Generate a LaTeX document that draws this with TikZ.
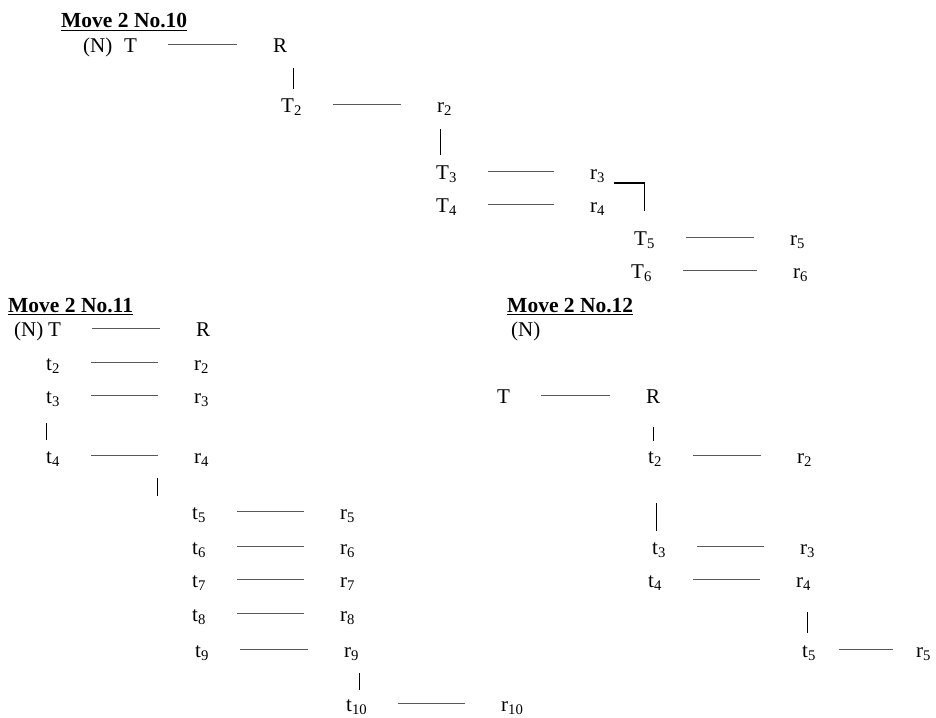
\documentclass[tikz,border=0pt]{standalone}
\usepackage{fontspec}
\setmainfont{Liberation Serif}

\begin{document}
\begin{tikzpicture}[x=1pt, y=-1pt,
    every node/.style={inner sep=0pt, anchor=west, text height=18pt, text depth=1pt,
                       font=\fontsize{21}{25}\selectfont},
    heading/.style={anchor=base west, font=\fontsize{21.5}{26}\selectfont\bfseries},
    pairline/.style={draw=black!65, line width=0.9pt, shorten <=31pt, shorten >=36pt},
    stemline/.style={draw=black, line width=1pt},
    elbow/.style={draw=black, line width=1.6pt}]
    \useasboundingbox (0,0) rectangle (936,717);

    % Move 2 No.10
    \node[heading] (ha) at (61,28) {\underline{Move 2 No.10}};
    \node (na) at (83,44) {(N)};
    \node (ta1) at (124,44) {T};
    \node (ra1) at (273,44) {R};
    \node (ta2) at (281,104) {T\textsubscript{2}};
    \node (ra2) at (437,104) {r\textsubscript{2}};
    \node (ta3) at (436,171) {T\textsubscript{3}};
    \node (ra3) at (590,171) {r\textsubscript{3}};
    \node (ta4) at (436,204) {T\textsubscript{4}};
    \node (ra4) at (590,204) {r\textsubscript{4}};
    \node (ta5) at (634,237) {T\textsubscript{5}};
    \node (ra5) at (790,237) {r\textsubscript{5}};
    \node (ta6) at (631,270) {T\textsubscript{6}};
    \node (ra6) at (793,270) {r\textsubscript{6}};

    \foreach \i in {1,...,6}
        \draw[pairline] (ta\i) -- (ra\i);
    \draw[stemline, shorten <=14.5pt, shorten >=5.5pt] ([xshift=2pt]ta2.north |- ra1.south) -- ([xshift=2pt]ta2.north);
    \draw[stemline, shorten <=15.5pt, shorten >=6.5pt] ([xshift=4pt]ta3.north west |- ra2.south) -- ([xshift=4pt]ta3.north west);
    \draw[elbow, shorten >=16.5pt] ([xshift=9pt, yshift=-12pt]ra3.east) -| (ta5.north);

    % Move 2 No.11
    \node[heading] (hb) at (8,312) {\underline{Move 2 No.11}};
    \node (nb) at (14,328) {(N)};
    \node (tb1) at (48,328) {T};
    \node (rb1) at (196,328) {R};
    \node (tb2) at (46,362) {t\textsubscript{2}};
    \node (rb2) at (194,362) {r\textsubscript{2}};
    \node (tb3) at (46,395) {t\textsubscript{3}};
    \node (rb3) at (194,395) {r\textsubscript{3}};
    \node (tb4) at (46,455) {t\textsubscript{4}};
    \node (rb4) at (194,455) {r\textsubscript{4}};
    \foreach \i/\y in {5/511, 6/546, 7/579, 8/613} {
        \node (tb\i) at (192,\y) {t\textsubscript{\i}};
        \node (rb\i) at (340,\y) {r\textsubscript{\i}};
    }
    \node (tb9) at (195,649) {t\textsubscript{9}};
    \node (rb9) at (344,649) {r\textsubscript{9}};
    \node (tb10) at (346,703) {t\textsubscript{10}};
    \node (rb10) at (501,703) {r\textsubscript{10}};

    \foreach \i in {1,...,10}
        \draw[pairline] (tb\i) -- (rb\i);
    \draw[stemline, shorten <=18.5pt, shorten >=5.5pt] (tb3.south west) -- (tb4.north west);
    \draw[stemline, shorten <=13.5pt, shorten >=5.5pt] ([xshift=-35pt]tb5.north west |- tb4.south) -- ([xshift=-35pt]tb5.north west);
    \draw[stemline, shorten <=14.5pt, shorten >=3pt] ([xshift=13pt]tb10.north west |- rb9.south) -- ([xshift=13pt]tb10.north west);

    % Move 2 No.12
    \node[heading] (hc) at (507,312) {\underline{Move 2 No.12}};
    \node (nc) at (511,327.5) {(N)};
    \node (tc1) at (497,395) {T};
    \node (rc1) at (646,395) {R};
    \node (tc2) at (648,455) {t\textsubscript{2}};
    \node (rc2) at (797,455) {r\textsubscript{2}};
    \node (tc3) at (652,546) {t\textsubscript{3}};
    \node (rc3) at (800,546) {r\textsubscript{3}};
    \node (tc4) at (648,579) {t\textsubscript{4}};
    \node (rc4) at (796,579) {r\textsubscript{4}};
    \node (tc5) at (802,649) {t\textsubscript{5}};
    \node (rc5) at (916,649) {r\textsubscript{5}};

    \foreach \i in {1,...,4}
        \draw[pairline] (tc\i) -- (rc\i);
    \draw[pairline, shorten <=23pt, shorten >=23pt] (tc5) -- (rc5);
    \draw[stemline, shorten <=22.5pt, shorten >=4.5pt] (rc1.south) -- (rc1.south |- tc2.north);
    \draw[stemline, shorten <=38.5pt, shorten >=5.5pt] ([xshift=4pt]tc3.north west |- tc2.south) -- ([xshift=4pt]tc3.north west);
    \draw[stemline, shorten <=23.5pt, shorten >=6.5pt] ([xshift=5pt]tc5.north west |- rc4.south) -- ([xshift=5pt]tc5.north west);
\end{tikzpicture}
\end{document}
